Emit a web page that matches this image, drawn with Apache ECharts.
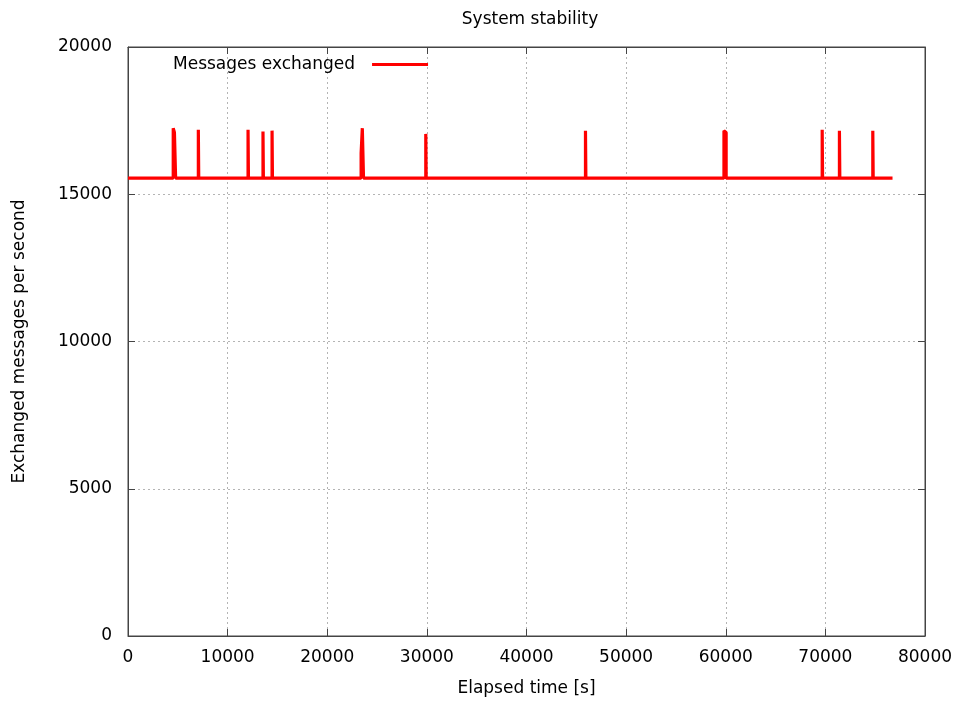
<!DOCTYPE html>
<html><head><meta charset="utf-8">
<script src="https://cdn.jsdelivr.net/npm/echarts@6/dist/echarts.min.js"></script>
<style>html,body{margin:0;padding:0;background:#fff}#c{width:956px;height:702px}</style>
</head><body><div id="c"></div>
<script>
// Data
const baseline = 15550;
const endTime = 76740;
const spikeStart = [4540, 4660, 7060, 12050, 13550, 14460, 23400, 23520, 29890, 45920, 59820, 59930, 69680, 71410, 74760];
const spikeEnd   = [4660, 4780, 7100, 12090, 13590, 14500, 23520, 23640, 29930, 45960, 59930, 60040, 69720, 71450, 74800];
const spikePeak  = [17240, 17095, 17186, 17186, 17130, 17160, 16400, 17244, 17050, 17152, 17152, 17095, 17186, 17152, 17152];
const xTicks = [0, 10000, 20000, 30000, 40000, 50000, 60000, 70000, 80000];
const yTicks = [0, 5000, 10000, 15000, 20000];

const pts = [[0, baseline]];
for (let i = 0; i < spikeStart.length; i++) {
  const joinedPrev = i > 0 && spikeStart[i] === spikeEnd[i - 1];
  const joinedNext = i < spikeStart.length - 1 && spikeStart[i + 1] === spikeEnd[i];
  if (!joinedPrev) pts.push([spikeStart[i], baseline]);
  pts.push([spikeStart[i], spikePeak[i]], [spikeEnd[i], spikePeak[i]]);
  if (!joinedNext) pts.push([spikeEnd[i], baseline]);
}
pts.push([endTime, baseline]);

const font = 'DejaVu Sans';
const fs = 17;
const axisColor = '#444';
const plain = v => String(v);
const gridLine = {show: true, lineStyle: {color: '#b4b4b4', type: [2, 3], width: 1}};
const tick = {show: true, inside: true, length: 7, lineStyle: {color: axisColor, width: 1}};
const chart = echarts.init(document.getElementById('c'), null, {renderer: 'canvas'});
chart.setOption({
  animation: false,
  backgroundColor: '#fff',
  textStyle: {fontFamily: font},
  title: {text: 'System stability', left: 525, top: 6, textAlign: 'center',
    textStyle: {fontFamily: font, fontSize: fs, fontWeight: 'normal', color: '#000'}},
  legend: {left: 173, top: 56, align: 'right', padding: 0, itemGap: 0,
    itemWidth: 56, itemHeight: 3, icon: 'rect',
    textStyle: {fontFamily: font, fontSize: fs, color: '#000', padding: [0, 12, 0, 0]},
    data: ['Messages exchanged']},
  grid: {left: 128, right: 31, top: 47, bottom: 65, containLabel: false,
    show: true, borderColor: axisColor, borderWidth: 1, backgroundColor: 'transparent'},
  xAxis: [{
    type: 'value', min: xTicks[0], max: xTicks[xTicks.length - 1], interval: 10000,
    name: 'Elapsed time [s]', nameLocation: 'middle', nameGap: 44,
    nameTextStyle: {fontFamily: font, fontSize: fs, color: '#000'},
    axisLine: {show: true, onZero: false, lineStyle: {color: axisColor, width: 1}},
    axisTick: tick,
    axisLabel: {fontFamily: font, fontSize: fs, color: '#000', margin: 13, formatter: plain},
    splitLine: gridLine
  }, {
    type: 'value', position: 'top', min: xTicks[0], max: xTicks[xTicks.length - 1], interval: 10000,
    axisLine: {show: true, onZero: false, lineStyle: {color: axisColor, width: 1}},
    axisTick: tick,
    axisLabel: {show: false}, splitLine: {show: false}
  }],
  yAxis: [{
    type: 'value', min: yTicks[0], max: yTicks[yTicks.length - 1], interval: 5000,
    name: 'Exchanged messages per second', nameLocation: 'middle', nameGap: 100, nameRotate: 90,
    nameTextStyle: {fontFamily: font, fontSize: fs, color: '#000'},
    axisLine: {show: true, onZero: false, lineStyle: {color: axisColor, width: 1}},
    axisTick: tick,
    axisLabel: {fontFamily: font, fontSize: fs, color: '#000', margin: 16, formatter: plain},
    splitLine: gridLine
  }, {
    type: 'value', position: 'right', min: yTicks[0], max: yTicks[yTicks.length - 1], interval: 5000,
    axisLine: {show: true, onZero: false, lineStyle: {color: axisColor, width: 1}},
    axisTick: tick,
    axisLabel: {show: false}, splitLine: {show: false}
  }],
  series: [{
    name: 'Messages exchanged', type: 'line', data: pts,
    xAxisIndex: 0, yAxisIndex: 0,
    showSymbol: false, symbol: 'none', color: '#ff0000',
    lineStyle: {color: '#ff0000', width: 3.2, join: 'bevel', cap: 'butt'},
    emphasis: {disabled: true}
  }, {
    name: 'mirror', type: 'line', data: [], xAxisIndex: 1, yAxisIndex: 1,
    showSymbol: false, silent: true
  }]
});
</script></body></html>
